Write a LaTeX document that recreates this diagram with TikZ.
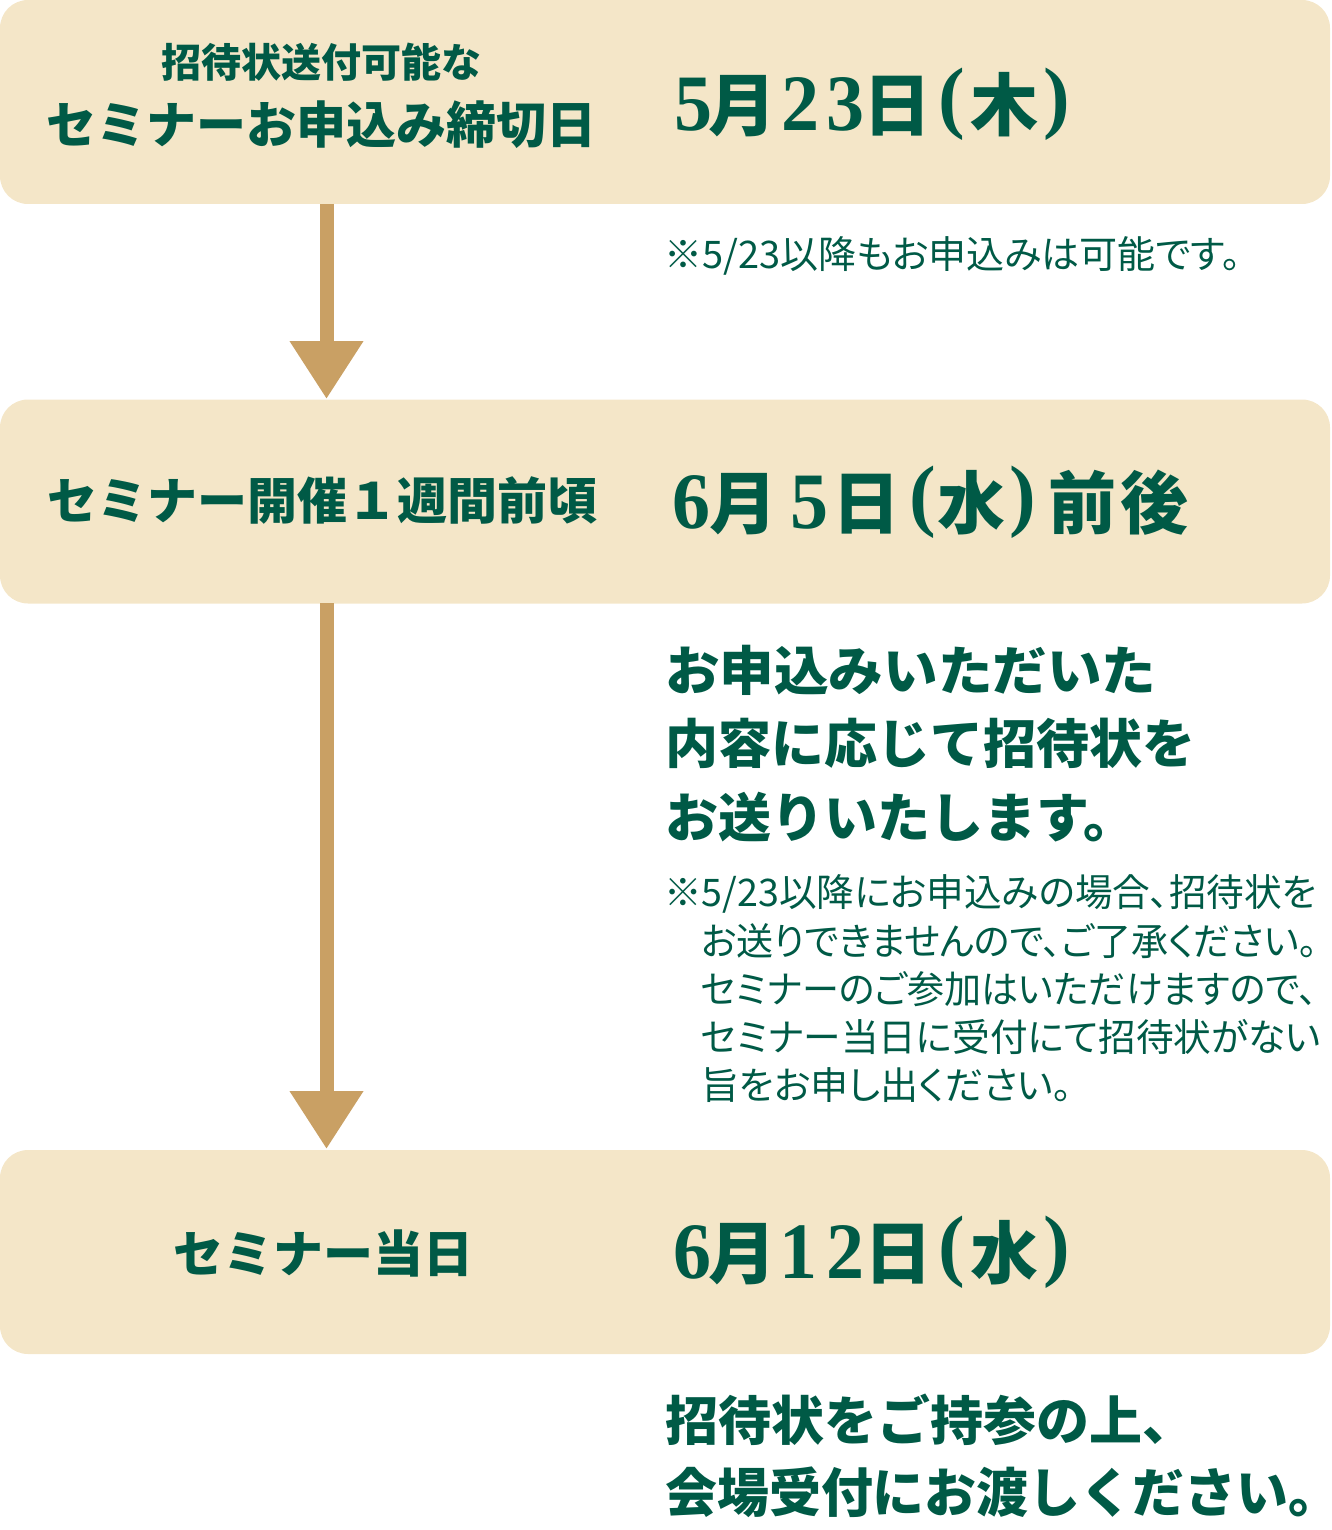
\documentclass[tikz,border=0pt]{standalone}
\usepackage{fontspec}
\usepackage{graphicx}
\usetikzlibrary{arrows.meta}
\newfontfamily\jp{Noto Sans CJK JP}
\newfontfamily\jph{Noto Sans CJK JP}[RawFeature=+halt]
\newfontfamily\jpp{Noto Sans CJK JP}[RawFeature=+palt]
\newfontfamily\lser{Liberation Serif}
\definecolor{boxfill}{HTML}{F4E6C8}
\definecolor{arrowcol}{HTML}{C9A064}
\definecolor{txtgreen}{HTML}{005A46}
% serif digit, tall and slightly condensed
\newcommand\dg[1]{\scalebox{0.95}[1]{\lser\bfseries\fontsize{80}{80}\selectfont #1}}
% tall serif parenthesis
\newcommand\prn[1]{\raisebox{7pt}{\lser\bfseries\fontsize{80}{80}\selectfont #1}}
% glyph centred at a given offset from the node's left edge
\newcommand\gk[2]{\rlap{\hspace{#1pt}\makebox[0pt]{#2}}}
\tikzset{
  stagebox/.style={fill=boxfill, draw=none, rounded corners=28pt, minimum width=1330pt, minimum height=204pt, inner sep=0pt},
  flowarrow/.style={draw=arrowcol, line width=14pt, -{Triangle[width=70pt,length=58pt]}},
  headtxt/.style={text=txtgreen, inner sep=0pt, anchor=base, font=\jp\bfseries\fontsize{50}{50}\selectfont},
  smallhead/.style={headtxt, font=\jp\bfseries\fontsize{40}{40}\selectfont},
  datetxt/.style={text=txtgreen, inner sep=0pt, anchor=base west, font=\jph\bfseries\fontsize{68}{68}\selectfont},
  notetxt/.style={text=txtgreen, inner sep=0pt, anchor=base west, font=\jpp\fontsize{38}{38}\selectfont},
  bigtxt/.style={text=txtgreen, inner sep=0pt, anchor=base west, font=\jph\bfseries\fontsize{53}{53}\selectfont},
}
\begin{document}
\begin{tikzpicture}[x=1pt,y=-1pt]
\useasboundingbox (0,0) rectangle (1332,1530);
% boxes
\node[stagebox] (b1) at (665,102) {};
\node[stagebox] (b2) at (665,501.5) {};
\node[stagebox] (b3) at (665,1252) {};
% arrows
\coordinate (a1s) at (326.5,204);
\coordinate (a1e) at (326.5,399);
\coordinate (a2s) at (326.5,603);
\coordinate (a2e) at (326.5,1149);
\draw[flowarrow] (a1s) -- (a1e);
\draw[flowarrow] (a2s) -- (a2e);
% box 1
\node[smallhead] (h1a) at (321,78) {招待状送付可能な};
\node[headtxt] (h1b) at (321,144) {セミナーお申込み締切日};
\node[datetxt] (d1) at (672,131) {\gk{20.5}{\dg{5}}\gk{69.5}{月}\gk{128}{\dg{2}}\gk{173}{\dg{3}}\gk{225}{日}\gk{279.5}{\prn{(}}\gk{331.5}{木}\gk{384}{\prn{)}}\hspace{398pt}};
\node[notetxt] (n1) at (664,269) {※5/23以降もお申込みは可能です。};
% box 2
\node[headtxt] (h2) at (322,519) {セミナー開催１週間前頃};
\node[datetxt] (d2) at (672,528) {\gk{19}{\dg{6}}\gk{71}{月}\gk{137}{\dg{5}}\gk{194}{日}\gk{250}{\prn{(}}\gk{298.5}{水}\gk{350.5}{\prn{)}}\gk{410}{前}\gk{482}{後}\hspace{515pt}};
% middle text
\node[bigtxt] (m1) at (665,690) {\scalebox{1.03}[1]{お申込みいただいた}};
\node[bigtxt] (m2) at (665,763) {内容に応じて招待状を};
\node[bigtxt] (m3) at (665,837) {お送りいたします。};
\node[notetxt] (n2a) at (664,906) {\scalebox{0.99}[1]{※5/23以降にお申込みの場合、招待状を}};
\node[notetxt] (n2b) at (701,955) {\scalebox{0.975}[1]{お送りできませんので、ご了承ください。}};
\node[notetxt] (n2c) at (701,1003) {\scalebox{0.975}[1]{セミナーのご参加はいただけますので、}};
\node[notetxt] (n2d) at (701,1051) {\scalebox{0.99}[1]{セミナー当日に受付にて招待状がない}};
\node[notetxt] (n2e) at (701,1099) {旨をお申し出ください。};
% box 3
\node[headtxt] (h3) at (323,1272) {セミナー当日};
\node[datetxt] (d3) at (672,1278) {\gk{19.5}{\dg{6}}\gk{69.5}{月}\gk{126}{\dg{1}}\gk{173}{\dg{2}}\gk{225.5}{日}\gk{279.5}{\prn{(}}\gk{331.5}{水}\gk{384}{\prn{)}}\hspace{398pt}};
% bottom
\node[bigtxt] (e1) at (665,1440) {招待状をご持参の上、};
\node[bigtxt] (e2) at (665,1512) {\scalebox{0.98}[1]{会場受付にお渡しください。}};
\end{tikzpicture}
\end{document}
